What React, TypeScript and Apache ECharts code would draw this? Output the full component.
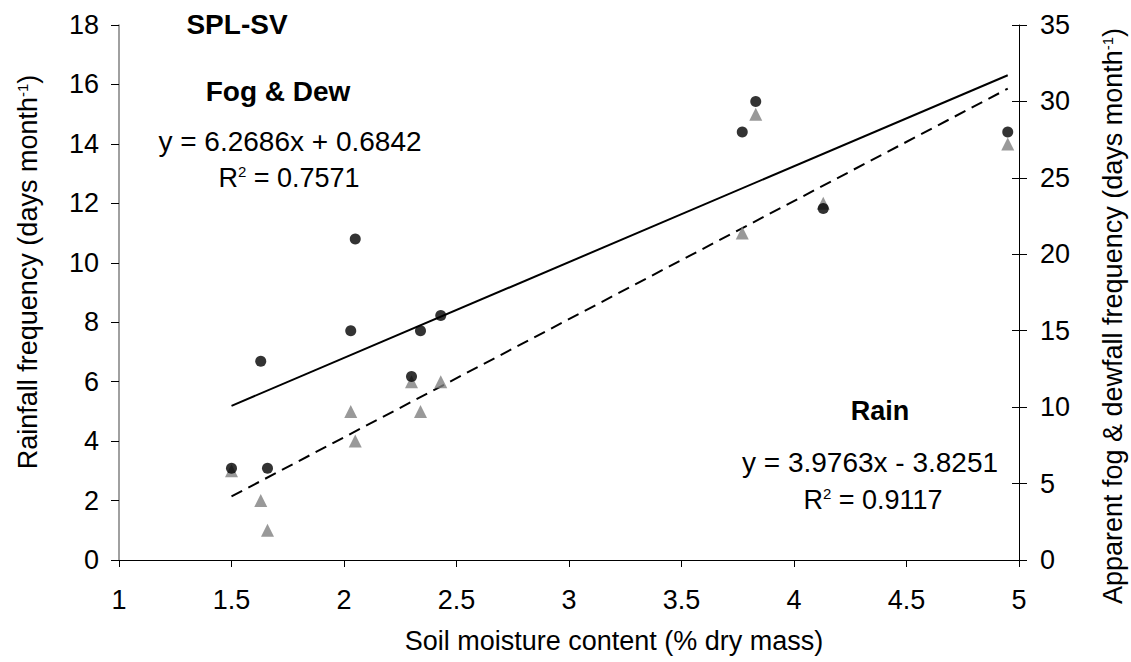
import React, { useEffect, useRef } from "react";
import * as echarts from "echarts";

const soilMoisture = [1.5, 1.63, 1.66, 2.03, 2.05, 2.3, 2.34, 2.43, 3.77, 3.83, 4.13, 4.95];
const rainDays = [3, 2, 1, 5, 4, 6, 5, 6, 11, 15, 12, 14];
const fogDewDays = [6, 13, 6, 15, 21, 12, 15, 16, 28, 30, 23, 28];

const fogSlope = 6.2686;
const fogIntercept = 0.6842;
const rainSlope = 3.9763;
const rainIntercept = -3.8251;

const FONT = "'Liberation Sans', Arial, sans-serif";

export default function App() {
  const ref = useRef<HTMLDivElement>(null);
  useEffect(() => {
    if (!ref.current) return;
    const chart = echarts.init(ref.current, undefined, { renderer: "svg" });
    const xMin = Math.min(...soilMoisture);
    const xMax = Math.max(...soilMoisture);
    const fogTrend = [xMin, xMax].map((x) => [x, fogSlope * x + fogIntercept]);
    const rainTrend = [xMin, xMax].map((x) => [x, rainSlope * x + rainIntercept]);
    const axisLabel = { color: "#000", fontSize: 27, fontFamily: FONT };
    const supRich = {
      a: { fontSize: 27, fontFamily: FONT, color: "#000" },
      s: { fontSize: 15, fontFamily: FONT, color: "#000", padding: [0, 0, 12, 0] },
    };
    const eqRich = {
      a: { fontSize: 27, fontFamily: FONT, color: "#000" },
      s: { fontSize: 15, fontFamily: FONT, color: "#000", padding: [0, 0, 13, 0] },
    };
    chart.setOption({
      animation: false,
      backgroundColor: "#fff",
      grid: { left: 119, right: 112, top: 25, bottom: 102 },
      xAxis: {
        type: "value",
        min: 1,
        max: 5,
        interval: 0.5,
        axisLine: { show: true, onZero: false, lineStyle: { color: "#000", width: 1 } },
        axisTick: { show: true, length: 7, lineStyle: { color: "#000" } },
        axisLabel: { ...axisLabel, margin: 26 },
        splitLine: { show: false },
      },
      yAxis: [
        {
          type: "value",
          position: "left",
          min: 0,
          max: 18,
          interval: 2,
          axisLine: { show: true, lineStyle: { color: "#808080", width: 1.5 } },
          axisTick: { show: true, length: 8, lineStyle: { color: "#000" } },
          axisLabel: { ...axisLabel, margin: 20 },
          splitLine: { show: false },
        },
        {
          type: "value",
          position: "right",
          min: 0,
          max: 35,
          interval: 5,
          axisLine: { show: true, lineStyle: { color: "#000", width: 1 } },
          axisTick: { show: true, length: 8, lineStyle: { color: "#000" } },
          axisLabel: { ...axisLabel, margin: 21 },
          splitLine: { show: false },
        },
        {
          type: "value",
          position: "right",
          min: 0,
          max: 35,
          interval: 5,
          axisLine: { show: false },
          axisTick: { show: true, inside: true, length: 7, lineStyle: { color: "#000" } },
          axisLabel: { show: false },
          splitLine: { show: false },
        },
      ],
      series: [
        {
          name: "Fog & Dew trend",
          type: "line",
          yAxisIndex: 1,
          data: fogTrend,
          symbol: "none",
          lineStyle: { color: "#000", width: 2, type: "solid" },
          z: 1,
        },
        {
          name: "Rain trend",
          type: "line",
          yAxisIndex: 0,
          data: rainTrend,
          symbol: "none",
          lineStyle: { color: "#000", width: 2, type: [12, 7] },
          z: 1,
        },
        {
          name: "Rain",
          type: "scatter",
          yAxisIndex: 0,
          data: soilMoisture.map((x, i) => [x, rainDays[i]]),
          symbol: "triangle",
          symbolSize: [13, 13],
          itemStyle: { color: "#808080" },
          z: 2,
        },
        {
          name: "Fog & Dew",
          type: "scatter",
          yAxisIndex: 1,
          data: soilMoisture.map((x, i) => [x, fogDewDays[i]]),
          symbol: "circle",
          symbolSize: 11,
          itemStyle: { color: "#000" },
          z: 3,
        },
      ],
      graphic: [
        {
          type: "text",
          x: 237,
          y: 24,
          style: { text: "SPL-SV", font: `bold 28px ${FONT}`, fill: "#000", align: "center", verticalAlign: "middle" },
        },
        {
          type: "text",
          x: 278,
          y: 91,
          style: { text: "Fog & Dew", font: `bold 28px ${FONT}`, fill: "#000", align: "center", verticalAlign: "middle" },
        },
        {
          type: "text",
          x: 290,
          y: 141,
          style: { text: `y = ${fogSlope}x + ${fogIntercept}`, font: `28px ${FONT}`, fill: "#000", align: "center", verticalAlign: "middle" },
        },
        {
          type: "text",
          x: 289,
          y: 178,
          style: { text: "{a|R}{s|2}{a| = 0.7571}", rich: eqRich, align: "center", verticalAlign: "middle" },
        },
        {
          type: "text",
          x: 880,
          y: 411,
          style: { text: "Rain", font: `bold 27px ${FONT}`, fill: "#000", align: "center", verticalAlign: "middle" },
        },
        {
          type: "text",
          x: 870,
          y: 462,
          style: { text: `y = ${rainSlope}x - ${Math.abs(rainIntercept)}`, font: `28px ${FONT}`, fill: "#000", align: "center", verticalAlign: "middle" },
        },
        {
          type: "text",
          x: 873,
          y: 500,
          style: { text: "{a|R}{s|2}{a| = 0.9117}", rich: eqRich, align: "center", verticalAlign: "middle" },
        },
        {
          type: "text",
          x: 614,
          y: 641,
          style: { text: "Soil moisture content (% dry mass)", font: `27px ${FONT}`, fill: "#000", align: "center", verticalAlign: "middle" },
        },
        {
          type: "text",
          x: 28,
          y: 272,
          rotation: Math.PI / 2,
          style: { text: "{a|Rainfall frequency (days month}{s|-1}{a|)}", rich: supRich, align: "center", verticalAlign: "middle" },
        },
        {
          type: "text",
          x: 1113,
          y: 316,
          rotation: Math.PI / 2,
          style: { text: "{a|Apparent fog & dewfall frequency (days month}{s|-1}{a|)}", rich: supRich, align: "center", verticalAlign: "middle" },
        },
      ],
    });
    return () => chart.dispose();
  }, []);
  return <div ref={ref} style={{ width: 1131, height: 662, position: "absolute", left: 0, top: 0 }} />;
}
